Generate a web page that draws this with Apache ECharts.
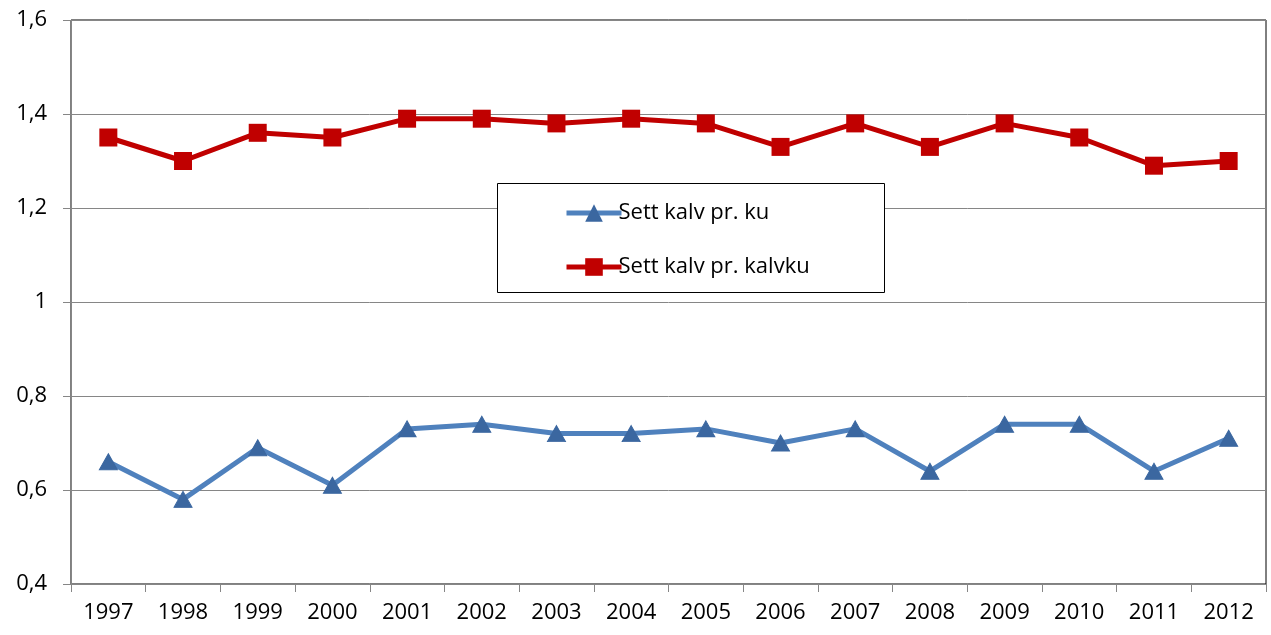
<!DOCTYPE html>
<html><head><meta charset="utf-8">
<script src="https://cdn.jsdelivr.net/npm/echarts@6/dist/echarts.min.js"></script>
<style>html,body{margin:0;padding:0;background:#fff}#c{width:1271px;height:635px}</style>
</head><body><div id="c"></div>
<script>
const years = ['1997','1998','1999','2000','2001','2002','2003','2004','2005','2006','2007','2008','2009','2010','2011','2012'];
const kalvPrKu = [0.66,0.58,0.69,0.61,0.73,0.74,0.72,0.72,0.73,0.70,0.73,0.64,0.74,0.74,0.64,0.71];
const kalvPrKalvku = [1.35,1.30,1.36,1.35,1.39,1.39,1.38,1.39,1.38,1.33,1.38,1.33,1.38,1.35,1.29,1.30];
const seriesNames = ['Sett kalv pr. ku','Sett kalv pr. kalvku'];
const font = '"Open Sans", "Liberation Sans", sans-serif';
const chart = echarts.init(document.getElementById('c'));
chart.setOption({
  animation:false,
  textStyle:{fontFamily:font},
  grid:{left:71,right:5,top:20,bottom:51,show:true,borderColor:'#000',borderWidth:1},
  graphic:[{type:'rect',left:497,top:183,shape:{width:387,height:109},style:{fill:'#fff',stroke:'#000',lineWidth:1},z:10}],
  legend:{orient:'vertical',left:559,top:197,itemWidth:55,itemHeight:22,itemGap:32,z:20,
    lineStyle:{width:5},
    textStyle:{fontFamily:font,fontSize:22,color:'#000',padding:[0,0,0,-8]},
    data:seriesNames},
  xAxis:{type:'category',data:years,boundaryGap:true,
    axisLine:{lineStyle:{color:'#868686',width:1}},
    axisTick:{show:true,length:8,lineStyle:{color:'#868686'}},
    axisLabel:{color:'#000',fontSize:22,fontFamily:font,margin:18}},
  yAxis:{type:'value',min:0.4,max:1.6,interval:0.2,
    axisLine:{show:true,lineStyle:{color:'#868686',width:1}},
    axisTick:{show:true,length:8,lineStyle:{color:'#868686'}},
    splitLine:{lineStyle:{color:'#868686',width:1}},
    axisLabel:{color:'#000',fontSize:22,fontFamily:font,margin:24,
      formatter:v=>String(Math.round(v*10)/10).replace('.',',')}},
  series:[
    {name:seriesNames[0],type:'line',data:kalvPrKu,symbol:'triangle',symbolSize:[18,16],
      lineStyle:{color:'#4f81bd',width:5},itemStyle:{color:'#3b67a0',borderColor:'#3b67a0'}},
    {name:seriesNames[1],type:'line',data:kalvPrKalvku,symbol:'rect',symbolSize:18,
      lineStyle:{color:'#c00000',width:5},itemStyle:{color:'#c00000'}}
  ]
});
</script></body></html>
